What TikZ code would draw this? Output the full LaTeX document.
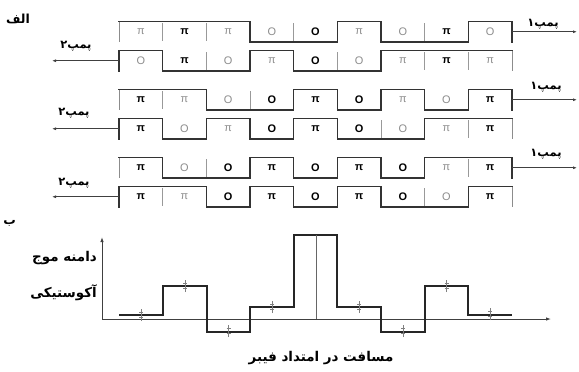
\documentclass[tikz,border=0pt]{standalone}
\usepackage{fontspec}
\setmainfont{Liberation Sans}
\newfontfamily\fa[Script=Arabic]{DejaVu Sans}
\TeXXeTstate=1
\usetikzlibrary{arrows.meta}
\newcommand\PB{\textbf{π}}
\newcommand\PG{\textcolor{black!45}{π}}
\newcommand\OB{\textbf{O}}
\newcommand\OG{\textcolor{black!45}{O}}
\tikzset{
  wave/.style={draw=black!80, line width=1.3bp, line cap=rect},
  sepline/.style={draw=black!40, line width=0.8bp},
  endgray/.style={draw=black!45, line width=0.9bp},
  pumparrow/.style={draw=black!75, line width=0.9bp, -{Latex[length=4bp,width=3bp]}},
  cell/.style={font=\fontsize{11}{12}\selectfont, inner sep=0pt},
  falabel/.style={font=\fa\bfseries\fontsize{11.5}{13}\selectfont, inner sep=0pt},
  fabig/.style={font=\fa\bfseries\fontsize{13.5}{15}\selectfont, inner sep=0pt},
  stepline/.style={draw=black!85, line width=1.5bp, line join=miter},
  axisline/.style={draw=black!75, line width=0.9bp},
  errbar/.style={draw=black!50, line width=0.7bp},
}
\newcommand\wrow[3]{%
  \foreach \lev/\txt [count=\i from 0, remember=\lev as \prev (initially 2)] in {#3} {%
    \pgfmathsetmacro\xa{119+\i*43.667}%
    \pgfmathsetmacro\xb{\xa+43.667}%
    \pgfmathsetmacro\yl{#2+(1-\lev)*20.5}%
    \draw[wave] (\xa,\yl) -- (\xb,\yl);
    \node[cell] (#1c\i) at ({(\xa+\xb)/2},{#2+10.5}) {\txt};
    \ifnum\i>0
      \ifnum\lev=\prev\relax
        \draw[sepline] (\xa,{#2+1.5}) -- (\xa,{#2+19});
      \else
        \draw[wave] (\xa,#2) -- (\xa,{#2+20.5});
      \fi
    \fi
  }%
}
\newcommand\errmark[3]{%
  \coordinate (#1) at (#2,#3);
  \draw[errbar] ([yshift=-6bp]#1) -- ([yshift=6bp]#1);
  \draw[errbar] ([xshift=-2bp,yshift=-2.5bp]#1) -- ([xshift=2bp,yshift=-2.5bp]#1);
  \draw[errbar] ([xshift=-2bp,yshift=2.5bp]#1) -- ([xshift=2bp,yshift=2.5bp]#1);
}
\begin{document}
\begin{tikzpicture}[x=1bp,y=-1bp]
\useasboundingbox (0,0) rectangle (579,371);
\fill[white] (0,0) rectangle (579,371);

% ---- part alef ----
\node[falabel, font=\fa\bfseries\fontsize{12.5}{14}\selectfont, anchor=east] (alef) at (30,19) {\fa\beginR الف\endR};

% rows
\wrow{ra}{21.5}{1/\PG,1/\PB,1/\PG,0/\OG,0/\OB,1/\PG,0/\OG,0/\PB,1/\OG}
\wrow{rb}{50.5}{1/\OG,0/\PB,0/\OG,1/\PG,0/\OB,0/\OG,1/\PG,1/\PB,1/\PG}
\wrow{rc}{89.5}{1/\PB,1/\PG,0/\OG,0/\OB,1/\PB,0/\OB,1/\PG,0/\OG,1/\PB}
\wrow{rd}{118.5}{1/\PB,0/\OG,1/\PG,0/\OB,1/\PB,0/\OB,0/\OG,1/\PG,1/\PB}
\wrow{re}{157.5}{1/\PB,0/\OG,0/\OB,1/\PB,0/\OB,1/\PB,0/\OB,1/\PG,1/\PB}
\wrow{rf}{186.5}{1/\PB,1/\PG,0/\OB,1/\PB,0/\OB,1/\PB,0/\OB,0/\OG,1/\PB}

% row ends: top rows (pump 1 to the right)
\foreach \t/\n in {21.5/a,89.5/c,157.5/e}{
  \draw[endgray] (119,\t) -- (119,{\t+20.5});
  \draw[wave] (512,\t) -- (512,{\t+20.5});
  \coordinate (s\n) at (512,{\t+10.25});
  \coordinate (e\n) at (577,{\t+10.25});
  \draw[pumparrow] (s\n) -- (e\n);
}
% bottom rows (pump 2 to the left)
\foreach \t/\n in {50.5/b,118.5/d,186.5/f}{
  \draw[wave] (119,\t) -- (119,{\t+20.5});
  \draw[endgray] (512,\t) -- (512,{\t+20.5});
  \coordinate (s\n) at (119,{\t+10.25});
  \coordinate (e\n) at (52,{\t+10.25});
  \draw[pumparrow] (s\n) -- (e\n);
}
\node[falabel, anchor=south] (pa) at (543,29.5) {\fa\beginR پمپ۱\endR};
\node[falabel, anchor=south] (pc) at (546,92) {\fa\beginR پمپ۱\endR};
\node[falabel, anchor=south] (pe) at (546,159) {\fa\beginR پمپ۱\endR};
\node[falabel, anchor=south] (pb) at (76,51) {\fa\beginR پمپ۲\endR};
\node[falabel, anchor=south] (pd) at (74,118.5) {\fa\beginR پمپ۲\endR};
\node[falabel, anchor=south] (pf) at (74,188) {\fa\beginR پمپ۲\endR};

% ---- part be ----
\node[falabel, font=\fa\bfseries\fontsize{12.5}{14}\selectfont, anchor=east] (be) at (16,223) {\fa\beginR ب\endR};
\coordinate (O) at (102,319);
\coordinate (ytop) at (102,237);
\coordinate (xend) at (551,319);
\draw[axisline, -{Latex[length=5bp,width=3.5bp]}] (O) -- (ytop);
\draw[axisline, -{Latex[length=5bp,width=3.5bp]}] (O) -- (xend);
\node[fabig, anchor=east] (ylab1) at (97,258) {\fa\beginR دامنه موج\endR};
\node[fabig, anchor=east] (ylab2) at (97,293) {\fa\beginR آکوستیکی\endR};
\node[fabig] (xlab) at (321,358) {\fa\beginR مسافت در امتداد فیبر\endR};

\draw[stepline] (119,315) -- (163,315) -- (163,286) -- (207,286) -- (207,332)
  -- (250,332) -- (250,307) -- (294,307) -- (294,235) -- (337,235) -- (337,307)
  -- (381,307) -- (381,332) -- (425,332) -- (425,286) -- (468,286) -- (468,315) -- (512,315);
\coordinate (mtop) at (316,235);
\coordinate (mbot) at (316,319);
\draw[draw=black!60, line width=0.8bp] (mtop) -- (mbot);

\errmark{m1}{141}{315}
\errmark{m2}{185}{286}
\errmark{m3}{228.5}{331}
\errmark{m4}{272}{307}
\errmark{m6}{359}{307}
\errmark{m7}{403}{331}
\errmark{m8}{446.5}{286}
\errmark{m9}{490}{314}
\end{tikzpicture}
\end{document}
